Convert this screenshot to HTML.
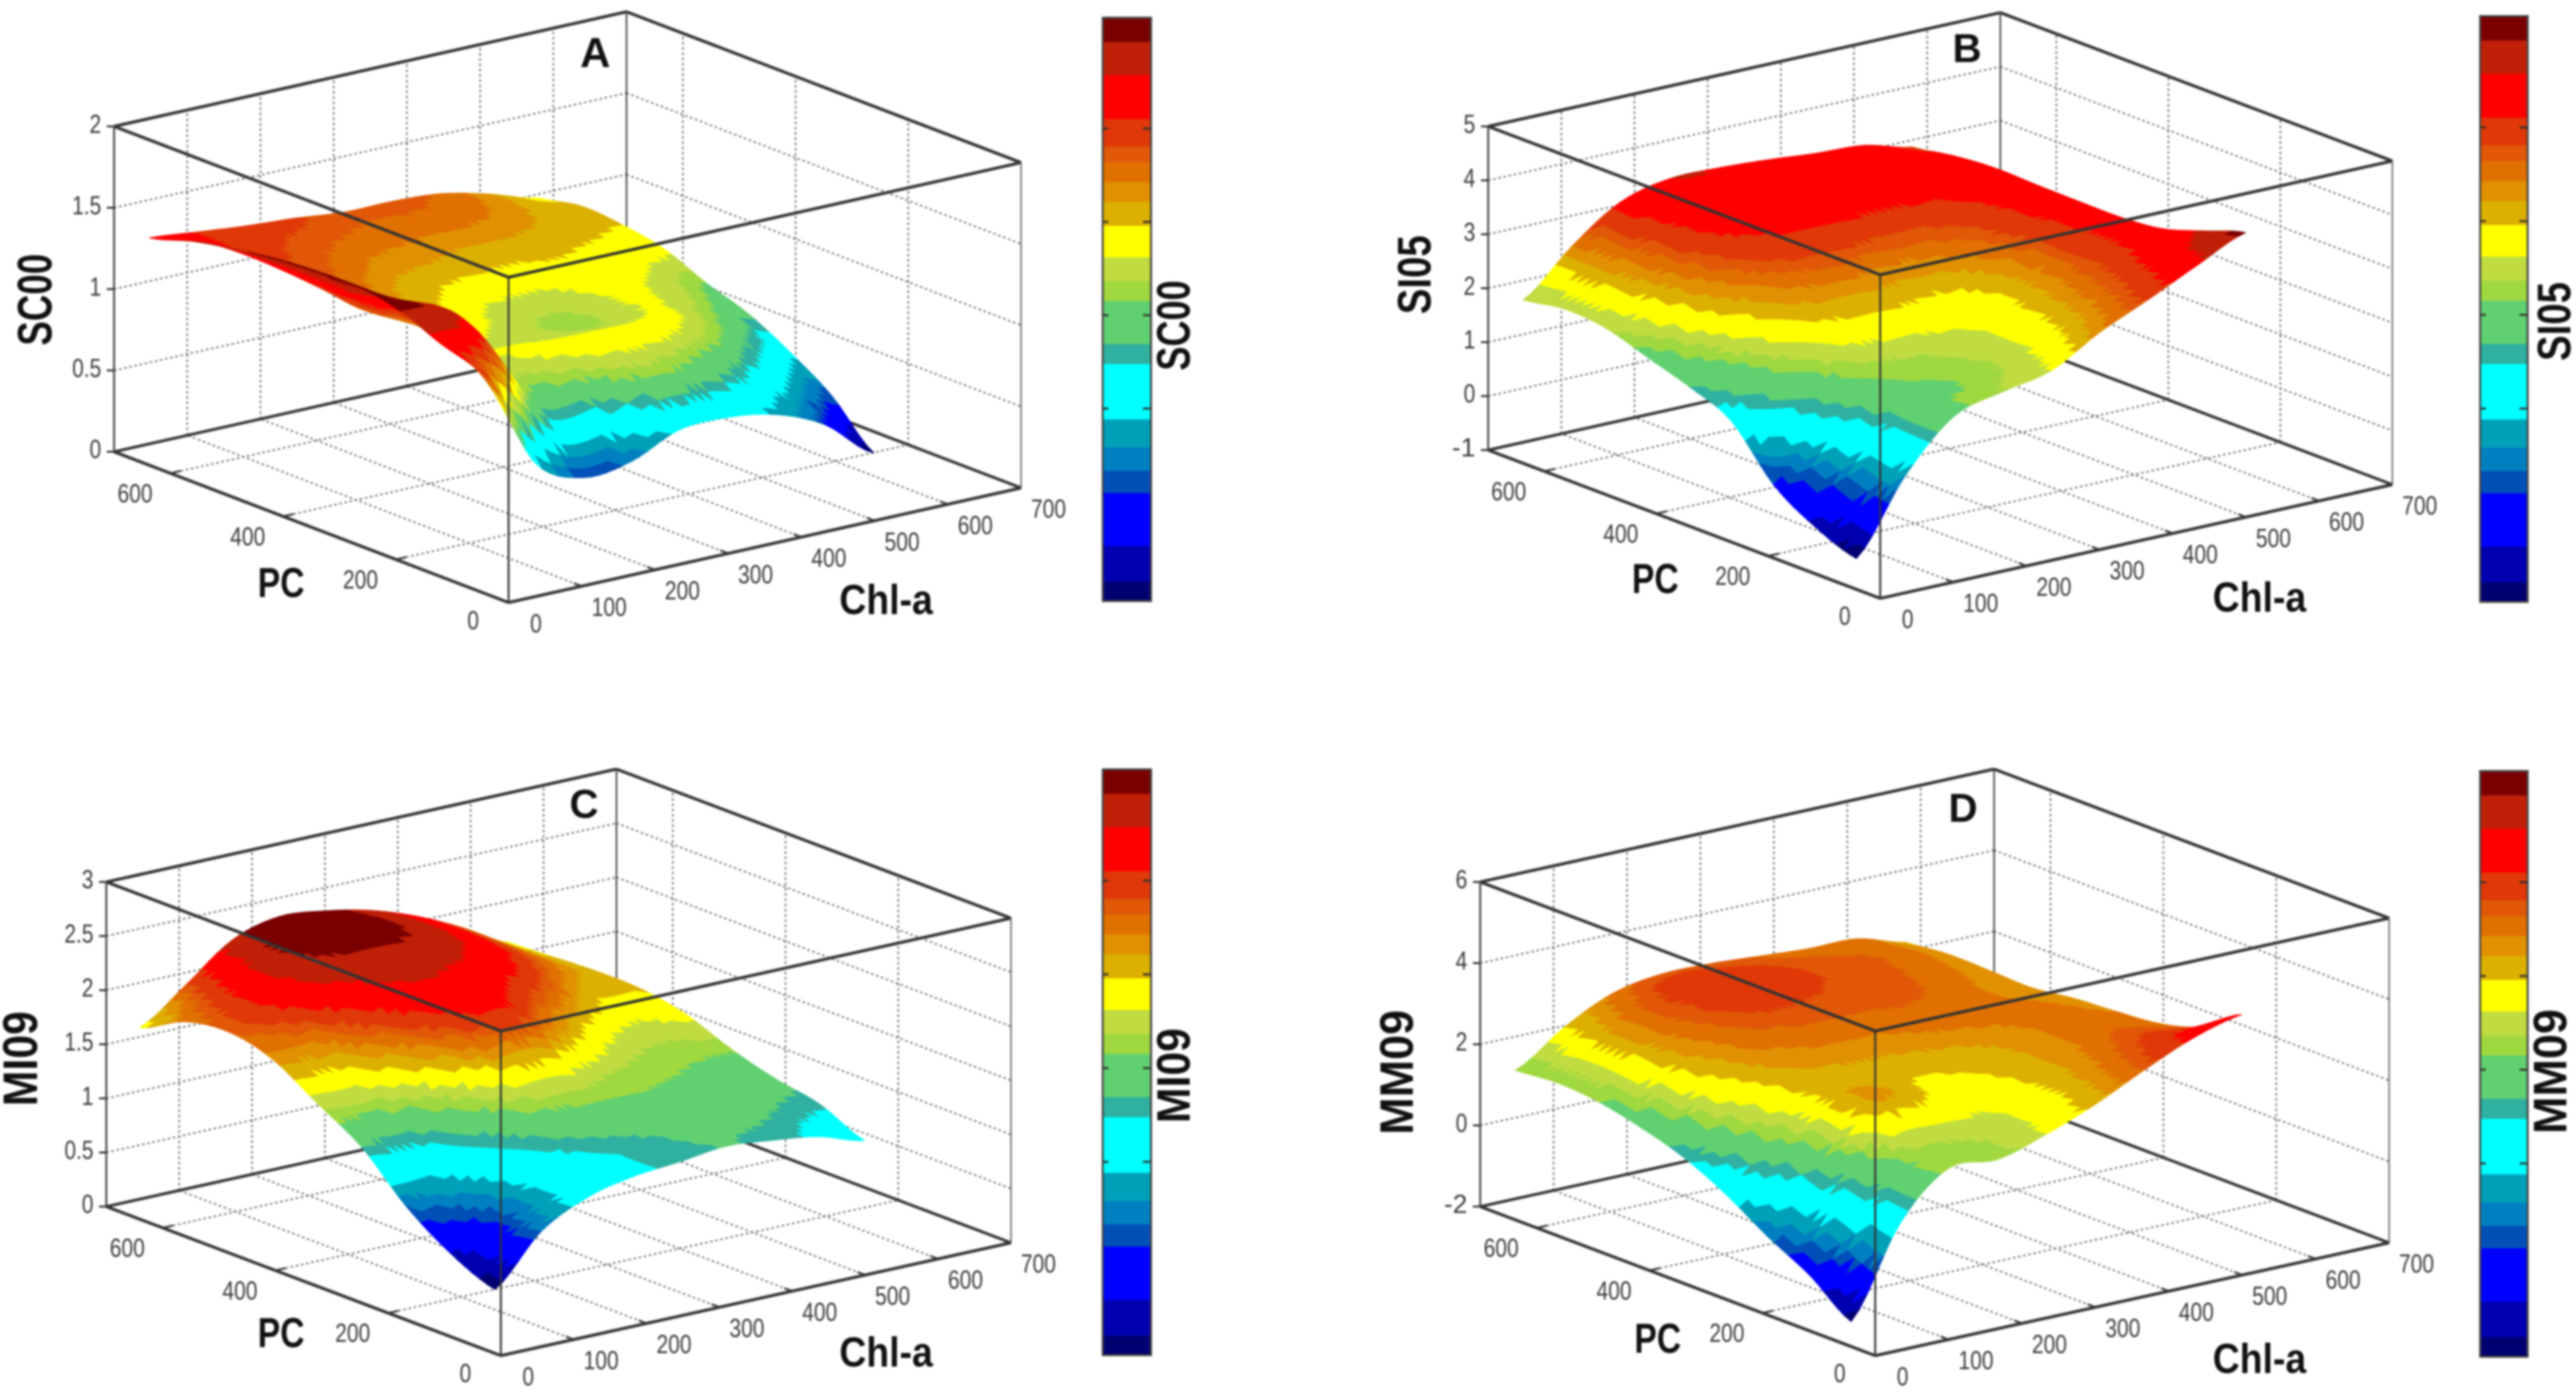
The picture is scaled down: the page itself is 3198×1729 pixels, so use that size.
<!DOCTYPE html>
<html lang="en">
<head>
<meta charset="utf-8">
<title>Four 3D surface plots of SC00, SI05, MI09 and MM09 against Chl-a and PC</title>
<style>
html,body{margin:0;padding:0;background:#fff;}
#figure{display:block;width:3198px;height:1729px;filter:blur(1.4px);}
.title{font-family:"Liberation Sans",sans-serif;font-weight:bold;fill:#111;}
.tick-label{font-family:"Liberation Sans",sans-serif;fill:#3a3a3a;font-size:32px;}
</style>
</head>
<body>
<svg id="figure" xmlns="http://www.w3.org/2000/svg" width="3198" height="1729" viewBox="0 0 3198 1729">
  <rect x="0" y="0" width="3198" height="1729" fill="#fff"/>

  <g id="panel-a">
    <g id="marks-a"></g>
    <text class="title" x="739" y="83" font-size="52" text-anchor="middle">A</text>
    <text class="title" transform="translate(64,372) rotate(-90)" font-size="60" text-anchor="middle" textLength="114" lengthAdjust="spacingAndGlyphs">SC00</text>
    <text class="title" x="349" y="741" font-size="52" text-anchor="middle" textLength="58" lengthAdjust="spacingAndGlyphs">PC</text>
    <text class="title" x="1100" y="762" font-size="52" text-anchor="middle" textLength="116" lengthAdjust="spacingAndGlyphs">Chl-a</text>
    <g id="bar-a"></g>
    <text class="title" transform="translate(1477,404) rotate(-90)" font-size="58" text-anchor="middle" textLength="112" lengthAdjust="spacingAndGlyphs">SC00</text>
  </g>

  <g id="panel-b">
    <g id="marks-b"></g>
    <text class="title" x="2442" y="77" font-size="50" text-anchor="middle">B</text>
    <text class="title" transform="translate(1776,341) rotate(-90)" font-size="58" text-anchor="middle" textLength="98" lengthAdjust="spacingAndGlyphs">SI05</text>
    <text class="title" x="2055" y="736" font-size="52" text-anchor="middle" textLength="58" lengthAdjust="spacingAndGlyphs">PC</text>
    <text class="title" x="2805" y="759" font-size="52" text-anchor="middle" textLength="116" lengthAdjust="spacingAndGlyphs">Chl-a</text>
    <g id="bar-b"></g>
    <text class="title" transform="translate(3191,399) rotate(-90)" font-size="58" text-anchor="middle" textLength="98" lengthAdjust="spacingAndGlyphs">SI05</text>
  </g>

  <g id="panel-c">
    <g id="marks-c"></g>
    <text class="title" x="725" y="1015" font-size="50" text-anchor="middle">C</text>
    <text class="title" transform="translate(46,1314) rotate(-90)" font-size="60" text-anchor="middle" textLength="118" lengthAdjust="spacingAndGlyphs">MI09</text>
    <text class="title" x="349" y="1672" font-size="52" text-anchor="middle" textLength="58" lengthAdjust="spacingAndGlyphs">PC</text>
    <text class="title" x="1100" y="1696" font-size="52" text-anchor="middle" textLength="116" lengthAdjust="spacingAndGlyphs">Chl-a</text>
    <g id="bar-c"></g>
    <text class="title" transform="translate(1477,1335) rotate(-90)" font-size="58" text-anchor="middle" textLength="118" lengthAdjust="spacingAndGlyphs">MI09</text>
  </g>

  <g id="panel-d">
    <g id="marks-d"></g>
    <text class="title" x="2437" y="1020" font-size="50" text-anchor="middle">D</text>
    <text class="title" transform="translate(1754,1331) rotate(-90)" font-size="58" text-anchor="middle" textLength="155" lengthAdjust="spacingAndGlyphs">MM09</text>
    <text class="title" x="2058" y="1679" font-size="52" text-anchor="middle" textLength="58" lengthAdjust="spacingAndGlyphs">PC</text>
    <text class="title" x="2805" y="1704" font-size="52" text-anchor="middle" textLength="116" lengthAdjust="spacingAndGlyphs">Chl-a</text>
    <g id="bar-d"></g>
    <text class="title" transform="translate(3186,1330) rotate(-90)" font-size="58" text-anchor="middle" textLength="155" lengthAdjust="spacingAndGlyphs">MM09</text>
  </g>
</svg>

<script>
// ---- data ----
var chlTicks = [0,100,200,300,400,500,600,700];
var pcTicks = [0,200,400,600];
var zTicksA = [0,0.5,1,1.5,2];
var zTicksB = [-1,0,1,2,3,4,5];
var zTicksC = [0,0.5,1,1.5,2,2.5,3];
var zTicksD = [-2,0,2,4,6];

var chlSamples = [21,87.5,154,220.5,287,353.5,420,486.5,553];
var pcSamples = [70,144,218,293,367,441,515,589,665];
var chlSamplesC = [35,98.5,162,225.5,288,352,416,479,542];
var pcSamplesC = [56,135,213.5,292,371,450,528.5,607,686];

var zRowsA = [
 [1.31,0.69,0.52,0.55,0.68,0.69,0.64,0.51,0.27],
 [1.37,1.25,0.85,0.85,0.95,0.92,0.82,0.68,0.52],
 [1.48,1.42,1.02,1.03,1.05,1.05,1.00,0.85,0.69],
 [1.53,1.30,1.06,1.00,0.97,0.96,1.02,0.95,0.83],
 [1.53,1.22,1.12,1.05,0.98,0.97,1.03,1.00,0.92],
 [1.51,1.25,1.17,1.10,1.06,1.05,1.07,1.05,1.03],
 [1.47,1.28,1.22,1.16,1.14,1.12,1.12,1.10,1.08],
 [1.42,1.30,1.25,1.22,1.20,1.20,1.18,1.13,1.10],
 [1.34,1.31,1.28,1.26,1.23,1.23,1.21,1.14,1.05]
];
var zRowsB = [
 [-0.60,0.73,1.63,1.89,2.08,2.59,3.00,3.43,3.84],
 [-0.30,0.90,1.60,1.75,1.95,2.30,2.80,3.25,3.58],
 [0.19,1.20,1.75,1.85,2.00,2.20,2.65,3.10,3.33],
 [1.07,1.65,2.10,2.20,2.20,2.20,2.55,3.10,3.25],
 [1.41,2.00,2.45,2.60,2.55,2.50,2.75,3.15,3.25],
 [1.66,2.30,2.80,3.00,3.00,2.95,3.00,3.20,3.26],
 [1.91,2.50,3.05,3.25,3.28,3.28,3.28,3.30,3.28],
 [1.98,2.60,3.15,3.40,3.38,3.32,3.32,3.30,3.22],
 [1.86,2.65,3.27,3.50,3.50,3.45,3.37,3.32,3.09]
];
var zRowsC = [
 [0.45,0.89,1.11,1.21,1.25,1.30,1.26,1.20,1.07],
 [0.63,0.82,1.10,1.20,1.28,1.33,1.35,1.30,1.25],
 [0.91,1.00,1.20,1.35,1.40,1.42,1.42,1.40,1.33],
 [1.30,1.25,1.40,1.60,1.65,1.55,1.48,1.45,1.45],
 [1.55,1.55,1.72,1.95,2.05,1.85,1.65,1.55,1.61],
 [1.80,1.80,2.00,2.15,2.15,2.05,1.90,1.70,1.69],
 [1.90,2.05,2.20,2.25,2.25,2.20,2.05,1.85,1.70],
 [1.84,2.05,2.28,2.36,2.35,2.25,2.10,1.88,1.68],
 [1.63,1.93,2.25,2.37,2.33,2.24,2.09,1.89,1.66]
];
var zRowsD = [
 [-1.61,0.54,1.64,1.59,1.95,2.42,3.00,3.52,3.84],
 [-0.85,0.80,1.60,1.75,1.90,2.25,2.80,3.20,3.15],
 [-0.29,1.10,2.55,2.40,2.10,2.30,2.65,2.95,2.85],
 [0.37,1.60,2.40,2.35,2.35,2.45,2.70,2.85,2.75],
 [0.88,2.00,2.55,2.70,2.70,2.85,2.85,2.80,2.68],
 [1.21,2.30,2.85,3.00,3.00,3.00,2.95,2.75,2.55],
 [1.45,2.50,3.05,3.30,3.20,3.10,3.00,2.85,2.58],
 [1.54,2.50,3.10,3.40,3.25,3.10,3.00,2.90,2.60],
 [1.46,2.25,2.83,3.04,3.03,2.95,2.87,2.85,2.50]
];

// Colour limits of each surface
var colorLimitsA = [0.27,1.53];
var colorLimitsB = [-0.60,3.95];
var colorLimitsC = [0.45,2.37];
var colorLimitsD = [-1.70,4.50];

// Stepped colormap, bottom to top
var bandStarts = [0,0.034,0.095,0.186,0.224,0.264,0.312,0.407,0.441,0.515,0.549,0.59,0.644,0.685,0.719,0.753,0.78,0.827,0.902,0.959];
var bandColors = ['#000070','#0000b0','#0000ff','#0050b8','#0080c0','#00a0b8','#00ffff','#30b0a0','#60d070','#a0d840','#c0dc40','#ffff00','#dcb000','#e09000','#e07000','#e05808','#e03808','#ff0000','#c02008','#7a0000'];
var barTickFractions = [0.33,0.65,0.49,0.81];

// ---- geometry of each panel (screen frame only) ----
var panels = [
 {key:'a', origin:[631.4,747.9], chlEnd:[1267.6,605.6], pcEnd:[141.6,560.7], zTopY:344.1, zLow:0, zHigh:2, zTicks:zTicksA, rows:zRowsA, chl:chlSamples, pc:pcSamples, clim:colorLimitsA, bar:[1369,22,60,724]},
 {key:'b', origin:[2334.2,742.7], chlEnd:[2970,601.5], pcEnd:[1847.5,558.6], zTopY:341, zLow:-1, zHigh:5, zTicks:zTicksB, rows:zRowsB, chl:chlSamples, pc:pcSamples, clim:colorLimitsB, bar:[3079,20,59,727]},
 {key:'c', origin:[621.8,1682.6], chlEnd:[1255.1,1542.5], pcEnd:[132,1497.6], zTopY:1279.7, zLow:0, zHigh:3, zTicks:zTicksC, rows:zRowsC, chl:chlSamplesC, pc:pcSamplesC, clim:colorLimitsC, bar:[1369,955,60,727]},
 {key:'d', origin:[2328,1682.6], chlEnd:[2966,1542.5], pcEnd:[1837.6,1497.6], zTopY:1279.7, zLow:-2, zHigh:6, zTicks:zTicksD, rows:zRowsD, chl:chlSamples, pc:pcSamples, clim:colorLimitsD, bar:[3079,957,59,727]}
];

var NS = 'http://www.w3.org/2000/svg';
var CHL_MAX = 700, PC_MAX = 700, STEPS = 48;

// axis function: data coordinates to screen
function project(p, chl, pc, z){
  var a = chl/CHL_MAX, b = pc/PC_MAX, c = (z-p.zLow)/(p.zHigh-p.zLow);
  return [
    p.origin[0] + a*(p.chlEnd[0]-p.origin[0]) + b*(p.pcEnd[0]-p.origin[0]),
    p.origin[1] + a*(p.chlEnd[1]-p.origin[1]) + b*(p.pcEnd[1]-p.origin[1]) + c*(p.zTopY-p.origin[1])
  ];
}
function bandColor(t){
  var k = 0;
  for (var i=0;i<bandStarts.length;i++){ if (t>=bandStarts[i]) k=i; }
  return bandColors[k];
}
function catmull(a,b,c,d,t){
  return 0.5*(2*b+(c-a)*t+(2*a-5*b+4*c-d)*t*t+(3*b-a-3*c+d)*t*t*t);
}
function sampleZ(rows, fx, fy){
  var n = rows.length-1, m = rows[0].length-1;
  var ix = Math.min(Math.floor(fx), m-1), iy = Math.min(Math.floor(fy), n-1);
  var tx = fx-ix, ty = fy-iy, col = [];
  for (var r=-1;r<=2;r++){
    var row = rows[Math.max(0,Math.min(n,iy+r))];
    col.push(catmull(row[Math.max(0,ix-1)],row[ix],row[Math.min(m,ix+1)],row[Math.min(m,ix+2)],tx));
  }
  return catmull(col[0],col[1],col[2],col[3],ty);
}
function lerpSample(arr, f){
  var i = Math.min(Math.floor(f), arr.length-2);
  return arr[i]+(arr[i+1]-arr[i])*(f-i);
}
function addLine(parent, a, b, color, width, dash, name){
  var el = document.createElementNS(NS,'line');
  el.setAttribute('x1',a[0]); el.setAttribute('y1',a[1]);
  el.setAttribute('x2',b[0]); el.setAttribute('y2',b[1]);
  el.setAttribute('stroke',color); el.setAttribute('stroke-width',width);
  if (dash) el.setAttribute('stroke-dasharray',dash);
  
  
  parent.appendChild(el);
}
function addLabel(parent, x, y, str, anchor, name){
  var el = document.createElementNS(NS,'text');
  el.setAttribute('x',x); el.setAttribute('y',y+11);
  el.setAttribute('class','tick-label');
  el.setAttribute('text-anchor',anchor);
  var len = 0;
  for (var i=0;i<str.length;i++){ len += (str[i]==='.') ? 7 : 14.5; }
  el.setAttribute('textLength',len);
  el.setAttribute('lengthAdjust','spacingAndGlyphs');
  el.textContent = str;
  
  
  parent.appendChild(el);
}

function drawPanel(p){
  var g = document.getElementById('marks-'+p.key);
  var GRID='#6e6e6e', GD='3 3.5', BOX='#333';
  var zL=p.zLow, zH=p.zHigh;
  var i,j,v;

  // back walls and floor grid
  for (i=0;i<chlTicks.length;i++){
    v = chlTicks[i];
    if (v>0 && v<CHL_MAX){
      addLine(g, project(p,v,PC_MAX,zL), project(p,v,PC_MAX,zH), GRID, 2, GD, 'grid-line-chl-wall');
      addLine(g, project(p,v,0,zL), project(p,v,PC_MAX,zL), GRID, 2, GD, 'grid-line-chl-floor');
    }
  }
  for (i=0;i<pcTicks.length;i++){
    v = pcTicks[i];
    if (v>0){
      addLine(g, project(p,CHL_MAX,v,zL), project(p,CHL_MAX,v,zH), GRID, 2, GD, 'grid-line-pc-wall');
      addLine(g, project(p,0,v,zL), project(p,CHL_MAX,v,zL), GRID, 2, GD, 'grid-line-pc-floor');
    }
  }
  for (i=0;i<p.zTicks.length;i++){
    v = p.zTicks[i];
    if (v>zL && v<zH){
      addLine(g, project(p,0,PC_MAX,v), project(p,CHL_MAX,PC_MAX,v), GRID, 2, GD, 'grid-line-z-wall');
      addLine(g, project(p,CHL_MAX,PC_MAX,v), project(p,CHL_MAX,0,v), GRID, 2, GD, 'grid-line-z-wall');
    }
  }
  // hidden box edges
  addLine(g, project(p,CHL_MAX,PC_MAX,zL), project(p,CHL_MAX,PC_MAX,zH), '#444', 2, null, 'box-edge-back-vertical');
  addLine(g, project(p,0,PC_MAX,zL), project(p,CHL_MAX,PC_MAX,zL), BOX, 3.6, null, 'box-edge-floor-back');
  addLine(g, project(p,CHL_MAX,0,zL), project(p,CHL_MAX,PC_MAX,zL), BOX, 3.6, null, 'box-edge-floor-back');

  // surface, far facets first
  var surf = document.createElementNS(NS,'g');
  
  
  g.appendChild(surf);
  var pts = [], zs = [];
  var n = p.rows.length-1, m = p.rows[0].length-1;
  for (j=0;j<=STEPS;j++){
    pts.push([]); zs.push([]);
    for (i=0;i<=STEPS;i++){
      var fx = i/STEPS*m, fy = j/STEPS*n;
      var z = sampleZ(p.rows, fx, fy);
      zs[j].push(z);
      pts[j].push(project(p, lerpSample(p.chl,fx), lerpSample(p.pc,fy), z));
    }
  }
  function facet(a,b,c,za,zb,zc){
    var t = ((za+zb+zc)/3 - p.clim[0])/(p.clim[1]-p.clim[0]);
    var col = bandColor(Math.max(0,Math.min(0.999,t)));
    var el = document.createElementNS(NS,'polygon');
    el.setAttribute('points', a[0].toFixed(1)+','+a[1].toFixed(1)+' '+b[0].toFixed(1)+','+b[1].toFixed(1)+' '+c[0].toFixed(1)+','+c[1].toFixed(1));
    el.setAttribute('fill',col); el.setAttribute('stroke',col); el.setAttribute('stroke-width','1');
    
    
    surf.appendChild(el);
  }
  for (j=STEPS-1;j>=0;j--){
    for (i=STEPS-1;i>=0;i--){
      facet(pts[j][i+1],pts[j+1][i+1],pts[j+1][i], zs[j][i+1],zs[j+1][i+1],zs[j+1][i]);
      facet(pts[j][i],pts[j][i+1],pts[j+1][i], zs[j][i],zs[j][i+1],zs[j+1][i]);
    }
  }

  // visible box edges
  addLine(g, project(p,0,PC_MAX,zH), project(p,CHL_MAX,PC_MAX,zH), BOX, 3.8, null, 'box-edge-top-back');
  addLine(g, project(p,CHL_MAX,PC_MAX,zH), project(p,CHL_MAX,0,zH), BOX, 3.8, null, 'box-edge-top-back');
  addLine(g, project(p,0,PC_MAX,zH), project(p,0,0,zH), BOX, 3.8, null, 'box-edge-top-front');
  addLine(g, project(p,0,0,zH), project(p,CHL_MAX,0,zH), BOX, 3.8, null, 'box-edge-top-front');
  addLine(g, project(p,0,0,zL), project(p,0,0,zH), '#333', 2.4, null, 'box-edge-front-vertical');
  addLine(g, project(p,0,PC_MAX,zL), project(p,0,PC_MAX,zH), '#444', 2.4, null, 'z-axis-line');
  addLine(g, project(p,CHL_MAX,0,zL), project(p,CHL_MAX,0,zH), '#666', 1.8, null, 'box-edge-right-vertical');
  addLine(g, project(p,0,PC_MAX,zL), project(p,0,0,zL), BOX, 3.8, null, 'pc-axis-line');
  addLine(g, project(p,0,0,zL), project(p,CHL_MAX,0,zL), BOX, 3.8, null, 'chl-axis-line');

  // ticks and labels
  for (i=0;i<chlTicks.length;i++){
    v = chlTicks[i];
    var c0 = project(p,v,0,zL), c1 = project(p,v,14,zL);
    addLine(g, c0, c1, '#333', 2.4, null, 'chl-tick');
    addLabel(g, c0[0]+34, c0[1]+26, String(v), 'middle', 'chl-tick-label');
  }
  for (i=0;i<pcTicks.length;i++){
    v = pcTicks[i];
    var d0 = project(p,0,v,zL), d1 = project(p,14,v,zL);
    addLine(g, d0, d1, '#333', 2.4, null, 'pc-tick');
    addLabel(g, d0[0]-44, d0[1]+(v===0?22:25), String(v), 'middle', 'pc-tick-label');
  }
  for (i=0;i<p.zTicks.length;i++){
    v = p.zTicks[i];
    var e0 = project(p,0,PC_MAX,v);
    addLine(g, e0, [e0[0]-9,e0[1]], '#333', 2.4, null, 'z-tick');
    addLabel(g, e0[0]-16, e0[1]-3, String(v), 'end', 'z-tick-label');
  }

  // colorbar
  var b = document.getElementById('bar-'+p.key);
  var bx=p.bar[0], by=p.bar[1], bw=p.bar[2], bh=p.bar[3];
  for (i=0;i<bandStarts.length;i++){
    var top = i+1<bandStarts.length ? bandStarts[i+1] : 1;
    var r = document.createElementNS(NS,'rect');
    r.setAttribute('x',bx); r.setAttribute('width',bw);
    r.setAttribute('y',by+(1-top)*bh); r.setAttribute('height',(top-bandStarts[i])*bh+0.5);
    r.setAttribute('fill',bandColors[i]);
    
    
    b.appendChild(r);
  }
  var fr = document.createElementNS(NS,'rect');
  fr.setAttribute('x',bx); fr.setAttribute('y',by); fr.setAttribute('width',bw); fr.setAttribute('height',bh);
  fr.setAttribute('fill','none'); fr.setAttribute('stroke','#444'); fr.setAttribute('stroke-width','2.5');
  
  
  b.appendChild(fr);
  for (i=0;i<barTickFractions.length;i++){
    var ty = by+(1-barTickFractions[i])*bh;
    addLine(b,[bx,ty],[bx+7,ty],'#333',2.5,null,'colorbar-tick');
    addLine(b,[bx+bw-10,ty],[bx+bw,ty],'#333',2.5,null,'colorbar-tick');
  }
}
panels.forEach(drawPanel);
</script>
</body>
</html>
